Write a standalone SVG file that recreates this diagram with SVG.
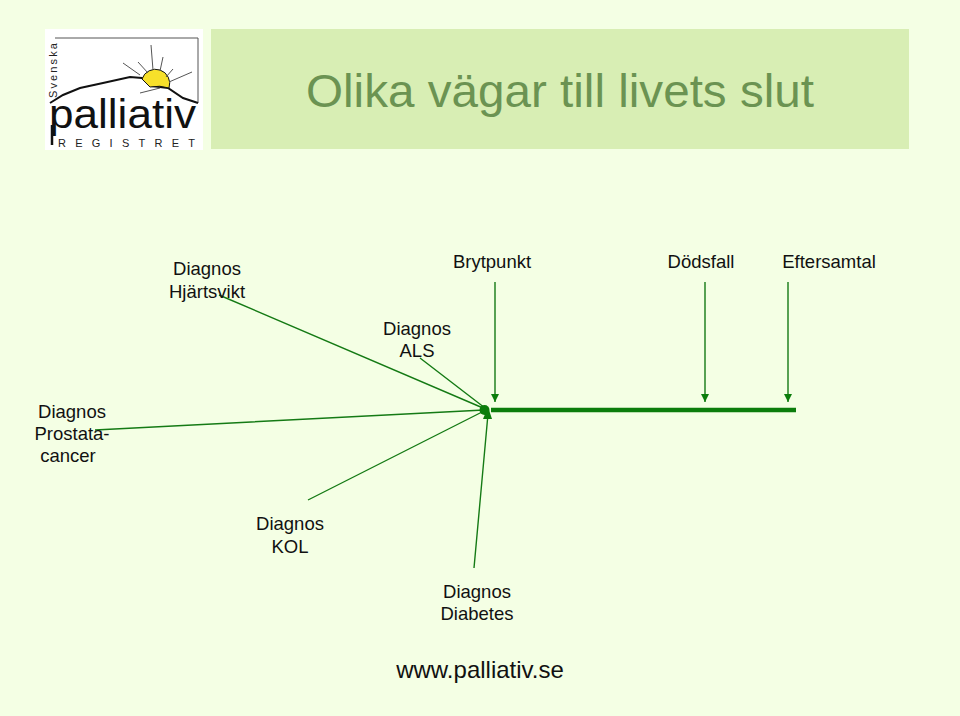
<svg xmlns="http://www.w3.org/2000/svg" width="960" height="716" viewBox="0 0 960 716">
<style>
text{font-family:"Liberation Sans",Arial,sans-serif}
.l{font-size:18.5px;fill:#111;text-anchor:middle}
.c{stroke:#147a14;stroke-width:1.4;fill:none}
.r{stroke:#555;stroke-width:1;fill:none}
</style>
<defs><marker id="a" markerUnits="userSpaceOnUse" markerWidth="10" markerHeight="10" refX="8" refY="4.5" orient="auto"><path d="M0,0.5L8,4.5L0,8.5Z" fill="#0b7d0b"/></marker></defs>
<rect width="960" height="716" fill="#f4ffe4"/>
<g id="title"><rect x="211" y="29" width="698" height="120" fill="#d8eeb4"/>
<text x="560" y="107" font-size="47" fill="#6b9352" text-anchor="middle" textLength="508" lengthAdjust="spacingAndGlyphs">Olika vägar till livets slut</text></g>
<g id="logo"><rect x="45" y="29" width="158" height="121" fill="#fff"/>
<path d="M55,38H198V103" class="r"/>
<path d="M50,103L63,95L80,88L103,83L130,77L142,78L152,86L168,88L183,98L198,103" fill="none" stroke="#111" stroke-width="2"/>
<path d="M142,79A14,14 0 0 1 169,88Q160,85 150,87Z" fill="#f7e02a" stroke="#111" stroke-width="1"/>
<path d="M123,63L140,75M138,62L148,73M151,45L153,70M163,57L160,71M173,69L166,77M192,72L169,82M140,93L160,88" class="r"/>
<path d="M52,125V145" stroke="#111" stroke-width="2.5"/>
<text x="49" y="128" font-size="41" fill="#111" textLength="147" lengthAdjust="spacingAndGlyphs">palliativ</text>
<text x="58" y="147" font-size="11" fill="#222" textLength="137">REGISTRET</text>
<text transform="translate(57,98) rotate(-90)" font-size="11" fill="#222" textLength="55">Svenska</text></g>
<g id="connectors">
<path d="M491,410H796" stroke="#0b7d0b" stroke-width="4.5" fill="none"/>
<path d="M219,295L483,408M420,358L485,408M95,430L484,410M308,500L484,411M474,568L488,414" class="c"/>
<circle cx="484.500" cy="410" r="5" fill="#0b7d0b"/>
<path d="M483,419L488,407L492,419Z" fill="#0b7d0b"/>
<path d="M495,282V402" class="c" marker-end="url(#a)"/>
<path d="M705,282V402" class="c" marker-end="url(#a)"/>
<path d="M788,282V402" class="c" marker-end="url(#a)"/>
</g>
<g id="n1"><text class="l" x="207" y="275">Diagnos</text><text class="l" x="207" y="298">Hjärtsvikt</text></g>
<g id="n2"><text class="l" x="417" y="335">Diagnos</text><text class="l" x="417" y="357">ALS</text></g>
<g id="n3"><text class="l" x="72" y="418">Diagnos</text><text class="l" x="72" y="440">Prostata-</text><text class="l" x="68" y="462">cancer</text></g>
<g id="n4"><text class="l" x="290" y="530">Diagnos</text><text class="l" x="290" y="553">KOL</text></g>
<g id="n5"><text class="l" x="477" y="598">Diagnos</text><text class="l" x="477" y="620">Diabetes</text></g>
<g id="n6"><text class="l" x="492" y="268">Brytpunkt</text></g>
<g id="n7"><text class="l" x="701" y="268">Dödsfall</text></g>
<g id="n8"><text class="l" x="829" y="268">Eftersamtal</text></g>
<text x="480" y="678" font-size="24" fill="#111" text-anchor="middle">www.palliativ.se</text>
</svg>
